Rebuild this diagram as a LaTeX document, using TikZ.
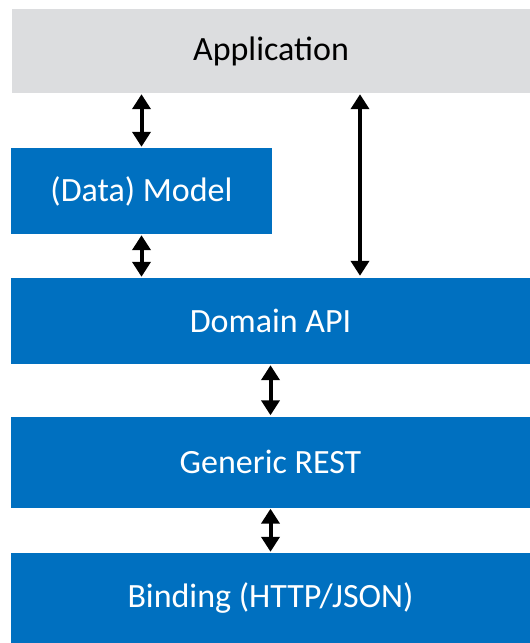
\documentclass[tikz,border=0pt]{standalone}
\usepackage{fontspec}
\setmainfont{Carlito}
\usepackage{tikz}
\usetikzlibrary{positioning,arrows.meta}

\definecolor{layerblue}{HTML}{0070C0}
\definecolor{appgray}{HTML}{DCDDDF}

\tikzset{
  layer/.style={rectangle, fill=layerblue, text=white, inner sep=0pt,
    minimum height=86pt, font=\fontsize{34}{40}\selectfont},
  link/.style={{Triangle[width=18pt,length=15pt]}-{Triangle[width=18pt,length=15pt]}, line width=4pt}
}

\begin{document}
\begin{tikzpicture}[x=1pt,y=-1pt]
    \useasboundingbox (0,0) rectangle (530,643);
    \node [layer, fill=appgray, text=black, minimum width=518pt, minimum height=84pt] (app) at (271,51) {Application};
    \node [layer, minimum width=261pt, minimum height=86pt] (model) at (141.5,191) {(Data) Model};
    \node [layer, minimum width=519pt] (domain) at (270.5,321) {Domain API};
    \node [layer, minimum width=519pt, minimum height=91pt] (rest) at (270.5,462) {Generic REST};
    \node [layer, minimum width=519pt, minimum height=90pt] (binding) at (270.5,598) {Binding (HTTP/JSON)};

    \draw [link, shorten <=1pt, shorten >=1pt] (model.north) -- (model.north |- app.south);
    \draw [link, shorten <=1pt, shorten >=1pt] (model.south) -- (model.south |- domain.north);
    \coordinate (apptap) at ([xshift=89pt]app.south);
    \draw [link, shorten <=1pt, shorten >=2pt] (apptap) -- (apptap |- domain.north);
    \draw [link, shorten <=1pt, shorten >=1pt] (domain.south) -- (rest.north);
    \draw [link, shorten <=1pt, shorten >=1pt] (rest.south) -- (binding.north);
\end{tikzpicture}
\end{document}
